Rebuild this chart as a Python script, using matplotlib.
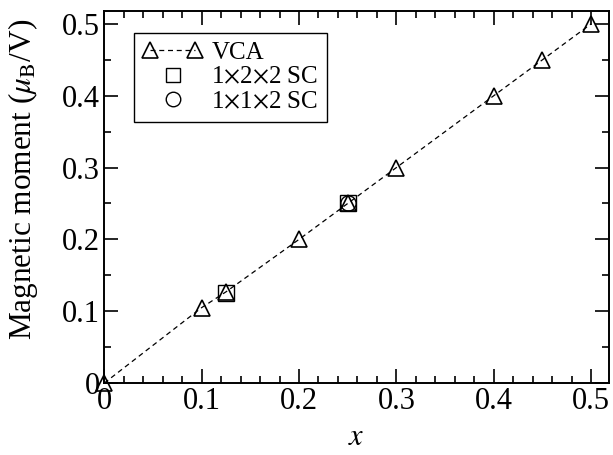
import matplotlib
matplotlib.use('Agg')
import matplotlib.pyplot as plt
from matplotlib.ticker import MultipleLocator
from matplotlib.legend_handler import HandlerLine2D

plt.rcParams['font.family'] = 'Liberation Serif'
plt.rcParams['mathtext.fontset'] = 'stix'

# data
vca_x = [0.0, 0.1, 0.125, 0.2, 0.25, 0.3, 0.4, 0.45, 0.5]
vca_m = [0.0, 0.105, 0.127, 0.2, 0.25, 0.3, 0.4, 0.45, 0.5]
sc122_x = [0.125, 0.25]
sc122_m = [0.125, 0.25]
sc112_x = [0.25]
sc112_m = [0.25]

fig = plt.figure(figsize=(6.13, 4.55), dpi=100)
ax = fig.add_axes([0.170, 0.158, 0.823, 0.818])

l1, = ax.plot(vca_x, vca_m, ls=(0, (4, 3)), lw=0.9, color='black', marker='^', ms=12,
              mfc='none', mec='black', mew=1.2, label='VCA', clip_on=False, zorder=3)
l2, = ax.plot(sc122_x, sc122_m, ls='none', marker='s', ms=11, mfc='none', mec='black',
              mew=1.0, label=r'1$\times$2$\times$2 SC')
l3, = ax.plot(sc112_x, sc112_m, ls='none', marker='o', ms=11, mfc='none', mec='black',
              mew=1.0, label=r'1$\times$1$\times$2 SC')

ax.set_xlim(0, 0.518)
ax.set_ylim(0, 0.518)
ax.xaxis.set_major_locator(MultipleLocator(0.1))
ax.xaxis.set_minor_locator(MultipleLocator(0.02))
ax.yaxis.set_major_locator(MultipleLocator(0.1))
ax.yaxis.set_minor_locator(MultipleLocator(0.05))
fmt = plt.FuncFormatter(lambda v, p: '0' if abs(v) < 1e-9 else '%g' % v)
ax.xaxis.set_major_formatter(fmt)
ax.yaxis.set_major_formatter(fmt)

ax.tick_params(which='both', direction='in', top=True, right=True, labelsize=22, width=1.2)
ax.tick_params(which='major', length=10, pad=3)
ax.tick_params(which='minor', length=5)
for s in ax.spines.values():
    s.set_linewidth(1.4)

ax.set_xlabel('$x$', fontsize=22, labelpad=5)
ax.set_ylabel(r'Magnetic moment ($\mu_\mathrm{B}$/V)', fontsize=22.5)
ax.yaxis.set_label_coords(-0.127, 0.548)

leg = ax.legend(handles=[l1, l2, l3], loc='upper left', numpoints=2, fontsize=18,
                frameon=True, fancybox=False, edgecolor='black', framealpha=1,
                borderpad=0.35, borderaxespad=0, handlelength=2.4,
                handletextpad=0.35, labelspacing=0.08, markerscale=0.95,
                bbox_to_anchor=(0.059, 0.941),
                handler_map={l2: HandlerLine2D(numpoints=1), l3: HandlerLine2D(numpoints=1)})
leg.get_frame().set_linewidth(1.0)

fig.savefig('out.png', dpi=100)
